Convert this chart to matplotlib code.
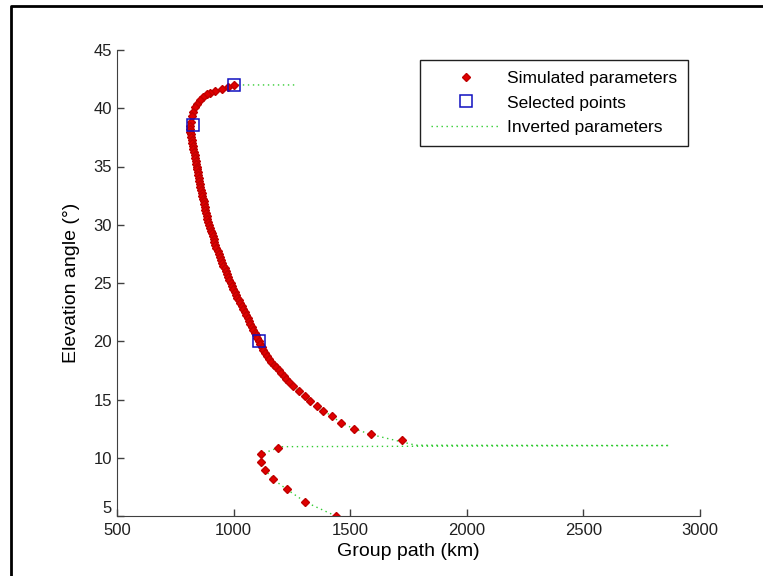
import matplotlib
matplotlib.use("Agg")
from matplotlib import pyplot as plt
from matplotlib.lines import Line2D

# simulated parameters (group path km, elevation deg)
sim_path = [1000, 975, 949, 920, 899, 885, 870, 856, 844, 834, 827, 820, 816,
            815, 815, 815, 816, 818, 820, 822, 825, 828, 831, 834, 836, 838, 840,
            843, 845, 847, 849, 851, 853, 856, 858, 861, 863, 866, 868, 871, 873,
            876, 879, 882, 885, 888, 891, 894, 898, 902, 906, 910, 914, 918, 922,
            926, 931, 936, 941, 946, 951, 956, 961, 966, 971, 976, 981, 987, 993,
            999, 1004, 1010, 1016, 1023, 1029, 1036, 1042, 1048, 1054, 1060, 1066,
            1072, 1078, 1084, 1090, 1096, 1102, 1108, 1115, 1122, 1128, 1135, 1143,
            1152, 1162, 1172, 1183, 1194, 1205, 1216, 1226,
            1236, 1256, 1282, 1306, 1328, 1356, 1385, 1421, 1459, 1516, 1588, 1720,
            1192, 1118, 1118, 1135, 1170, 1228, 1308, 1438]
sim_elev = [42.0, 41.8, 41.63, 41.5, 41.33, 41.2, 41.0, 40.7, 40.4, 40.1, 39.7, 39.3, 38.85,
            38.5, 38.25, 38.0, 37.75, 37.5, 37.25, 37.0, 36.75, 36.5, 36.25, 36.0, 35.75, 35.5, 35.25,
            35.0, 34.75, 34.5, 34.25, 34.0, 33.75, 33.5, 33.25, 33.0, 32.75, 32.5, 32.25, 32.0, 31.75,
            31.5, 31.25, 31.0, 30.75, 30.5, 30.25, 30.0, 29.75, 29.5, 29.25, 29.0, 28.75, 28.5, 28.25,
            28.0, 27.75, 27.5, 27.25, 27.0, 26.75, 26.5, 26.25, 26.0, 25.75, 25.5, 25.25, 25.0, 24.75,
            24.5, 24.25, 24.0, 23.75, 23.5, 23.25, 23.0, 22.75, 22.5, 22.25, 22.0, 21.75,
            21.5, 21.25, 21.0, 20.75, 20.5, 20.25, 20.0, 19.75, 19.5, 19.25, 19.0, 18.75,
            18.5, 18.25, 18.0, 17.75, 17.5, 17.25, 17.0, 16.75,
            16.5, 16.2, 15.7, 15.3, 14.9, 14.4, 14.0, 13.6, 13.0, 12.5, 12.0, 11.5,
            10.86, 10.32, 9.61, 8.95, 8.15, 7.29, 6.2, 5.0]

# selected points
sel_path = [1000, 826, 1110]
sel_elev = [42.0, 38.56, 20.0]

# inverted parameters (dotted line)
inv_path = [1260, 1000] + sim_path[1:112] + [1780, 2870, 1192] + sim_path[113:]
inv_elev = [42.0, 42.0] + sim_elev[1:112] + [11.08, 11.05, 10.95] + sim_elev[113:]

plt.rcParams['font.family'] = ['Liberation Sans', 'DejaVu Sans']

fig = plt.figure(figsize=(7.63, 5.76), dpi=100)
ax = fig.add_axes([117 / 763, 60 / 576, 583 / 763, 466 / 576])

ax.plot(inv_path, inv_elev, linestyle=(0, (1, 2.6)), color='#33cc33', linewidth=1.0,
        label='Inverted parameters', zorder=1)
ax.plot(sim_path, sim_elev, linestyle='none', marker='D', markersize=3.6,
        color='#e00000', markeredgecolor='#c00000', label='Simulated parameters', zorder=2)
ax.plot(sel_path, sel_elev, linestyle='none', marker='s', markersize=8.5,
        markerfacecolor='none', markeredgecolor='#1010c0', markeredgewidth=1.1,
        label='Selected points', zorder=3)

ax.set_xlim(500, 3000)
ax.set_ylim(5, 45)
ax.set_xticks(range(500, 3001, 500))
ax.set_yticks(range(5, 46, 5))
ax.spines['top'].set_visible(False)
ax.spines['right'].set_visible(False)
for s in ['left', 'bottom']:
    ax.spines[s].set_color('#404040')
ax.tick_params(direction='in', length=5, width=1, colors='#404040',
               labelcolor='#202020', labelsize=12)
ax.tick_params(axis='x', pad=5)
ax.set_xlabel('Group path (km)', fontsize=14, labelpad=4)
ax.set_ylabel('Elevation angle (°)', fontsize=14, labelpad=10)

# bottom y label sits above the corner like the original
ax.get_yticklabels()[0].set_verticalalignment('bottom')

handles, labels = ax.get_legend_handles_labels()
order = [1, 2, 0]
leg = ax.legend([handles[i] for i in order], [labels[i] for i in order],
                loc='upper right', bbox_to_anchor=(0.979, 0.978), borderaxespad=0,
                fontsize=12.5, fancybox=False, edgecolor='#202020', framealpha=1,
                handlelength=4.0, handletextpad=0.4, labelspacing=0.55, borderpad=0.6)
leg.get_frame().set_linewidth(1.0)

# outer figure border (left and top visible)
fig.add_artist(Line2D([11 / 763, 11 / 763, 1.0], [0.0, 1 - 6 / 576, 1 - 6 / 576],
                      transform=fig.transFigure, color='black', linewidth=2))

fig.savefig('out.png', dpi=100)
